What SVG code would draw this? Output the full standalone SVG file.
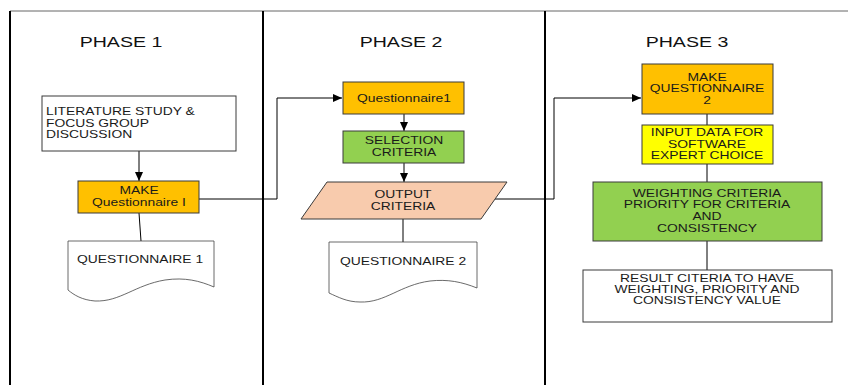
<svg xmlns="http://www.w3.org/2000/svg" width="848" height="385" viewBox="0 0 848 385">
<style>
.frame{stroke:#000;stroke-width:2;fill:none}
.top{stroke:#666;stroke-width:1;fill:none}
.box{stroke:#3a3a3a;stroke-width:1}
.doc{fill:#fff;stroke:#444;stroke-width:0.8}
.t{font-family:"Liberation Sans",Arial,sans-serif;font-size:10.5px;fill:#1a1a1a;text-anchor:middle}
.ts{font-family:"Liberation Sans",Arial,sans-serif;font-size:10.5px;fill:#1a1a1a;text-anchor:start}
.ph{font-family:"Liberation Sans",Arial,sans-serif;font-size:14.5px;fill:#111;text-anchor:middle}
.c{stroke:#000;stroke-width:1;fill:none}
</style>
<defs>
<marker id="ah" markerUnits="userSpaceOnUse" markerWidth="10" markerHeight="8" refX="9" refY="4" orient="auto">
<path d="M0,0 L9,4 L0,8 Z" fill="#000"/>
</marker>
</defs>
<rect width="848" height="385" fill="#fff"/>
<g id="frame">
<line class="top" x1="10" y1="11" x2="848" y2="11"/>
<line class="frame" x1="10" y1="11" x2="10" y2="385"/>
<line class="frame" x1="263" y1="11" x2="263" y2="385"/>
<line class="frame" x1="545" y1="11" x2="545" y2="385"/>
<text class="ph" transform="matrix(1.35 0 0 1 121 47)">PHASE 1</text>
<text class="ph" transform="matrix(1.35 0 0 1 401 47)">PHASE 2</text>
<text class="ph" transform="matrix(1.35 0 0 1 687 47)">PHASE 3</text>
</g>
<g id="connectors">
<line class="c" x1="139" y1="151" x2="139" y2="181" marker-end="url(#ah)"/>
<line class="c" x1="139" y1="213" x2="141" y2="241"/>
<polyline class="c" points="199,199 277,199 277,98 342,98" marker-end="url(#ah)"/>
<line class="c" x1="404" y1="114" x2="404" y2="131" marker-end="url(#ah)"/>
<line class="c" x1="404" y1="163" x2="404" y2="182" marker-end="url(#ah)"/>
<line class="c" x1="403" y1="219" x2="403" y2="242"/>
<polyline class="c" points="495,199 554,199 554,98 641,98" marker-end="url(#ah)"/>
<line class="c" x1="707" y1="114" x2="707" y2="125"/>
<line class="c" x1="707" y1="164" x2="707" y2="182"/>
<line class="c" x1="707" y1="241" x2="707" y2="270"/>
</g>
<g id="literature">
<rect class="box" x="42" y="96" width="194" height="55" fill="#fff"/>
<text class="ts" transform="matrix(1.32 0 0 1 46 115)">LITERATURE STUDY &amp;</text>
<text class="ts" transform="matrix(1.32 0 0 1 46 127)">FOCUS GROUP</text>
<text class="ts" transform="matrix(1.32 0 0 1 46 138)">DISCUSSION</text>
</g>
<g id="make1">
<rect class="box" x="78" y="181" width="121" height="32" fill="#FFC000"/>
<text class="t" transform="matrix(1.32 0 0 1 139 194)">MAKE</text>
<text class="t" transform="matrix(1.32 0 0 1 139 206)">Questionnaire I</text>
</g>
<g id="doc1">
<path class="doc" d="M68,241 H214 V287 C200,281 185,277 165,280 C135,285 120,302 95,301 C82,300 74,295 68,290 Z"/>
<text class="t" transform="matrix(1.32 0 0 1 140 263)">QUESTIONNAIRE 1</text>
</g>
<g id="q1">
<rect class="box" x="343" y="82" width="121" height="32" fill="#FFC000"/>
<text class="t" transform="matrix(1.32 0 0 1 404 102)">Questionnaire1</text>
</g>
<g id="selection">
<rect class="box" x="343" y="131" width="121" height="32" fill="#92D050"/>
<text class="t" transform="matrix(1.32 0 0 1 404 144)">SELECTION</text>
<text class="t" transform="matrix(1.32 0 0 1 404 156)">CRITERIA</text>
</g>
<g id="output">
<polygon class="box" points="327,182 507,182 481,219 301,219" fill="#F8CBAD"/>
<text class="t" transform="matrix(1.32 0 0 1 403 198)">OUTPUT</text>
<text class="t" transform="matrix(1.32 0 0 1 403 210)">CRITERIA</text>
</g>
<g id="doc2">
<path class="doc" d="M329,242 H477 V288 C462,282 448,279 430,281 C400,285 385,303 360,302 C347,302 338,297 329,293 Z"/>
<text class="t" transform="matrix(1.32 0 0 1 403 265)">QUESTIONNAIRE 2</text>
</g>
<g id="make2">
<rect class="box" x="642" y="64" width="131" height="50" fill="#FFC000"/>
<text class="t" transform="matrix(1.32 0 0 1 707 81)">MAKE</text>
<text class="t" transform="matrix(1.32 0 0 1 707 92)">QUESTIONNAIRE</text>
<text class="t" transform="matrix(1.32 0 0 1 707 104)">2</text>
</g>
<g id="input">
<rect class="box" x="642" y="125" width="131" height="39" fill="#FFFF00"/>
<text class="t" transform="matrix(1.32 0 0 1 707 136)">INPUT DATA FOR</text>
<text class="t" transform="matrix(1.32 0 0 1 707 148)">SOFTWARE</text>
<text class="t" transform="matrix(1.32 0 0 1 707 159)">EXPERT CHOICE</text>
</g>
<g id="weighting">
<rect class="box" x="593" y="182" width="229" height="59" fill="#92D050"/>
<text class="t" transform="matrix(1.32 0 0 1 707 197)">WEIGHTING CRITERIA</text>
<text class="t" transform="matrix(1.32 0 0 1 707 208)">PRIORITY FOR CRITERIA</text>
<text class="t" transform="matrix(1.32 0 0 1 707 220)">AND</text>
<text class="t" transform="matrix(1.32 0 0 1 707 232)">CONSISTENCY</text>
</g>
<g id="result">
<rect class="box" x="583" y="270" width="249" height="52" fill="#fff"/>
<text class="t" transform="matrix(1.32 0 0 1 707 282)">RESULT CITERIA TO HAVE</text>
<text class="t" transform="matrix(1.32 0 0 1 707 293)">WEIGHTING, PRIORITY AND</text>
<text class="t" transform="matrix(1.32 0 0 1 707 304)">CONSISTENCY VALUE</text>
</g>
</svg>
